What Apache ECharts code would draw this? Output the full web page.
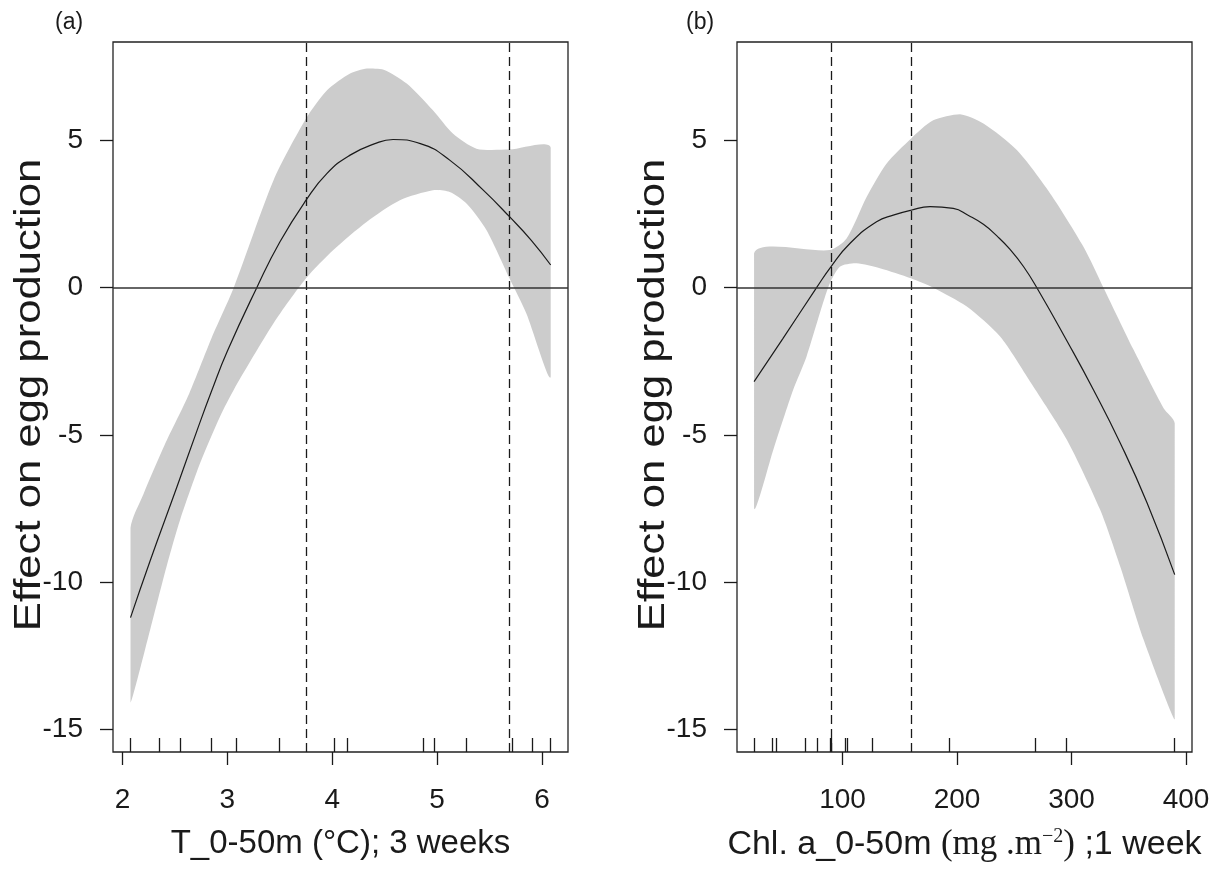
<!DOCTYPE html>
<html>
<head>
<meta charset="utf-8">
<title>Effect on egg production</title>
<script src="https://cdn.jsdelivr.net/npm/echarts@6.0.0/dist/echarts.min.js"></script>
<style>
html, body { margin: 0; padding: 0; background: #fff; }
#chart { width: 1215px; height: 869px; }
</style>
</head>
<body>
<div id="chart"></div>
<script>
// (a) temperature 0-50m, 3 weeks
var tempX   = [2.076, 2.26, 2.52, 2.71, 2.85, 3.0, 3.28, 3.5, 3.75, 3.95, 4.17, 4.4, 4.58, 4.84, 5.12, 5.44, 5.69, 5.9, 6.083];
var tempFit = [-11.2, -9.3, -6.75, -4.85, -3.5, -2.15, 0, 1.55, 2.97, 3.88, 4.5, 4.88, 5.03, 4.89, 4.33, 3.31, 2.41, 1.6, 0.77];
var tempUpX = [2.076, 2.2, 2.4, 2.635, 2.85, 3.06, 3.44, 3.75, 3.95, 4.17, 4.33, 4.49, 4.71, 4.96, 5.15, 5.375, 5.69, 6.083];
var tempUp  = [-8.16, -7.0, -5.35, -3.6, -1.7, 0, 3.65, 5.74, 6.7, 7.27, 7.44, 7.4, 6.93, 6.02, 5.23, 4.72, 4.69, 4.75];
var tempLoX = [2.076, 2.264, 2.42, 2.55, 2.74, 2.93, 3.06, 3.44, 3.75, 4.01, 4.33, 4.645, 4.96, 5.12, 5.28, 5.47, 5.69, 5.85, 6.083];
var tempLo  = [-14.09, -11.6, -9.46, -7.87, -5.95, -4.37, -3.47, -1.21, 0.32, 1.28, 2.24, 2.97, 3.31, 3.25, 2.86, 1.96, 0.32, -0.87, -3.02];
var tempRug = [2.076, 2.346, 2.546, 2.848, 3.086, 3.498, 4.022, 4.146, 4.864, 4.971, 5.273, 5.714, 5.907, 6.083];
var tempCuts  = [3.75, 5.69];
var tempTicks = [2, 3, 4, 5, 6];

// (b) chlorophyll a 0-50m, 1 week
var chlX   = [22.7, 48, 77.3, 89.8, 106.4, 129.7, 145, 159.7, 176.4, 196.7, 210, 223, 235, 246.3, 258, 269.7, 295.9, 319.2, 342.5, 365.9, 390.1];
var chlFit = [-3.19, -1.72, 0, 0.71, 1.5, 2.24, 2.47, 2.63, 2.75, 2.69, 2.45, 2.15, 1.75, 1.3, 0.72, 0, -1.8, -3.47, -5.27, -7.3, -9.74];
var chlUpX = [22.7, 88.9, 103.5, 121, 138.5, 159.7, 179.2, 202.6, 223, 252.2, 281.3, 310.4, 327.9, 354.2, 380.4, 390.1];
var chlUp  = [1.17, 1.28, 1.67, 3.08, 4.22, 5.06, 5.68, 5.89, 5.57, 4.67, 3.2, 1.39, 0, -2.11, -4.09, -4.6];
var chlLoX = [22.7, 40, 56.8, 68.5, 87.4, 97.6, 112.2, 132.6, 159.7, 179.2, 208.5, 237.6, 264, 295.9, 325, 342.5, 362.9, 390.1];
var chlLo  = [-7.48, -5.44, -3.47, -2.34, 0, 0.71, 0.83, 0.66, 0.32, 0, -0.64, -1.66, -3.2, -5.16, -7.54, -9.46, -11.94, -14.65];
var chlRug = [22.7, 38.8, 42.3, 67.3, 77.5, 88.9, 89.8, 102.3, 104.4, 125.9, 193.3, 268.2, 295.4, 390.1];
var chlCuts  = [89.8, 159.7];
var chlTicks = [100, 200, 300, 400];

var yTicks = [-15, -10, -5, 0, 5];

var sans = '"Liberation Sans", Arial, sans-serif';
var serif = '"Liberation Serif", "Times New Roman", serif';
var ink = '#1a1a1a';

function zip(xs, ys) {
	var out = [];
	for (var i = 0; i < xs.length; i++) {
		out.push([xs[i], ys[i]]);
	}
	return out;
}

function xAxisMain(grid, min, max, ticks, name) {
	return {
		type: 'value', gridIndex: grid, position: 'bottom',
		min: min, max: max,
		axisLine: {show: false, onZero: false},
		splitLine: {show: false},
		axisTick: {show: true, inside: false, length: 13, customValues: ticks, lineStyle: {color: ink, width: 1.3}},
		axisLabel: {customValues: ticks, margin: 34, fontSize: 28, fontFamily: sans, color: ink},
		name: name,
		nameLocation: 'middle',
		nameGap: 75,
		nameTextStyle: {fontSize: 33, fontFamily: sans, color: ink}
	};
}

// rug marks along the bottom, drawn as inside ticks of a second x axis
function xAxisRug(grid, min, max, rug) {
	return {
		type: 'value', gridIndex: grid, position: 'bottom', offset: 0,
		min: min, max: max,
		axisLine: {show: false, onZero: false},
		splitLine: {show: false},
		axisLabel: {show: false},
		axisTick: {show: true, inside: true, length: 14, customValues: rug, lineStyle: {color: ink, width: 1.3}}
	};
}

function yAxisMain(grid) {
	return {
		type: 'value', gridIndex: grid,
		min: -15.76, max: 8.34,
		axisLine: {show: false, onZero: false},
		splitLine: {show: false},
		axisTick: {show: true, inside: false, length: 13, customValues: yTicks, lineStyle: {color: ink, width: 1.3}},
		axisLabel: {customValues: yTicks, margin: 30, fontSize: 28, fontFamily: sans, color: ink}
	};
}

// y title, a bit stretched along its length like in the original
function yTitle(cx) {
	return {
		type: 'text', x: cx, y: 395, rotation: Math.PI / 2, scaleX: 1.18,
		silent: true,
		style: {
			text: 'Effect on egg production', fill: ink,
			fontSize: 37, fontFamily: sans,
			align: 'center', verticalAlign: 'middle',
			textAlign: 'center', textVerticalAlign: 'middle'
		}
	};
}

function bandSeries(axis, upX, up, loX, lo) {
	var pts = zip(upX, up);
	var lower = zip(loX, lo).reverse();
	pts = pts.concat(lower);
	return {
		type: 'custom', xAxisIndex: axis, yAxisIndex: axis / 2,
		silent: true, z: 1,
		data: [[0, 0]],
		renderItem: function(params, api) {
			var points = [];
			for (var i = 0; i < pts.length; i++) {
				points.push(api.coord(pts[i]));
			}
			return {
				type: 'polygon',
				shape: {points: points, smooth: 0.25, smoothConstraint: [points[0], points[0]]},
				style: {fill: '#cccccc', stroke: null}
			};
		}
	};
}

function fitSeries(axis, xs, ys, cuts) {
	var marks = [];
	for (var i = 0; i < cuts.length; i++) {
		marks.push({xAxis: cuts[i], lineStyle: {type: [9, 5], color: ink, width: 1.3}});
	}
	marks.push({yAxis: 0, lineStyle: {type: 'solid', color: '#333', width: 1.5}});
	return {
		type: 'line', xAxisIndex: axis, yAxisIndex: axis / 2,
		data: zip(xs, ys),
		smooth: 0.5,
		showSymbol: false,
		z: 3,
		lineStyle: {color: ink, width: 1.2},
		markLine: {silent: true, symbol: ['none', 'none'], label: {show: false}, data: marks}
	};
}

var chart = echarts.init(document.getElementById('chart'));

var option = {
	animation: false,
	backgroundColor: '#fff',
	title: [
		{text: '(a)', left: 50, top: 6, textStyle: {fontSize: 23, fontWeight: 'normal', fontFamily: sans, color: ink}},
		{text: '(b)', left: 681, top: 6, textStyle: {fontSize: 23, fontWeight: 'normal', fontFamily: sans, color: ink}}
	],
	graphic: [yTitle(30), yTitle(654)],
	grid: [
		{left: 113, top: 42, width: 455, height: 710, show: true, borderColor: '#222', borderWidth: 1.3, backgroundColor: 'transparent'},
		{left: 737, top: 42, width: 455, height: 710, show: true, borderColor: '#222', borderWidth: 1.3, backgroundColor: 'transparent'}
	],
	xAxis: [
		xAxisMain(0, 1.909, 6.248, tempTicks, 'T_0-50m (°C); 3 weeks'),
		xAxisRug(0, 1.909, 6.248, tempRug),
		xAxisMain(1, 7.8, 405.2, chlTicks, '{a|Chl. a_0-50m }{b|(mg .m}{c|−2}{b|)}{a| ;1 week}'),
		xAxisRug(1, 7.8, 405.2, chlRug)
	],
	yAxis: [yAxisMain(0), yAxisMain(1)],
	series: [
		bandSeries(0, tempUpX, tempUp, tempLoX, tempLo),
		fitSeries(0, tempX, tempFit, tempCuts),
		bandSeries(2, chlUpX, chlUp, chlLoX, chlLo),
		fitSeries(2, chlX, chlFit, chlCuts)
	]
};

// rich text for the superscript in the chl. a title
option.xAxis[2].nameTextStyle.rich = {
	a: {fontSize: 34, fontFamily: sans, color: ink},
	b: {fontSize: 35, fontFamily: serif, color: ink},
	c: {fontSize: 20, fontFamily: serif, color: ink, verticalAlign: 'top'}
};

chart.setOption(option);
</script>
</body>
</html>
